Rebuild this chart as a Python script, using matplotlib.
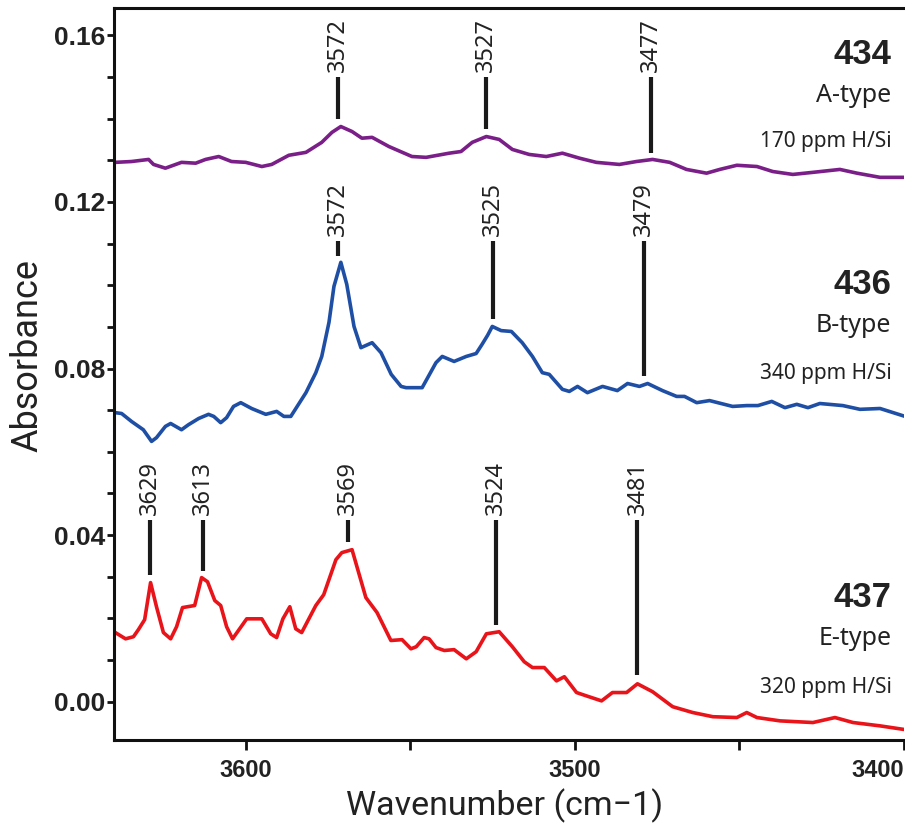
import numpy as np
import matplotlib
matplotlib.use("Agg")
import matplotlib.pyplot as plt

# sample 434, A-type (purple)
wn_434 = [3639.6, 3634.7, 3629.5, 3628.0, 3624.4, 3619.5, 3615.2, 3612.2, 3608.2, 3604.3,
          3600.0, 3595.1, 3592.1, 3586.9, 3581.7, 3576.9, 3573.8, 3571.1, 3567.7, 3564.7,
          3561.6, 3556.5, 3549.5, 3545.2, 3538.2, 3534.6, 3531.2, 3526.9, 3523.0, 3519.0,
          3513.9, 3508.7, 3503.8, 3498.6, 3493.5, 3486.5, 3481.3, 3476.4, 3471.2, 3466.1,
          3460.0, 3456.0, 3450.8, 3444.7, 3439.9, 3433.8, 3427.7, 3419.5, 3414.3, 3407.3,
          3399.7]
abs_434 = [0.1295, 0.1297, 0.1302, 0.1290, 0.1281, 0.1295, 0.1293, 0.1302, 0.1309, 0.1297,
           0.1295, 0.1285, 0.1290, 0.1312, 0.1319, 0.1343, 0.1367, 0.1381, 0.1369, 0.1353,
           0.1355, 0.1333, 0.1309, 0.1307, 0.1317, 0.1321, 0.1343, 0.1357, 0.1350, 0.1326,
           0.1314, 0.1309, 0.1317, 0.1305, 0.1295, 0.1290, 0.1297, 0.1302, 0.1295, 0.1278,
           0.1269, 0.1278, 0.1288, 0.1285, 0.1273, 0.1266, 0.1271, 0.1278, 0.1269, 0.1259,
           0.1259]

# sample 436, B-type (blue)
wn_436 = [3639.6, 3637.7, 3634.7, 3631.1, 3628.6, 3627.1, 3624.4, 3622.8, 3619.5, 3617.4,
          3614.3, 3611.3, 3609.7, 3607.6, 3605.8, 3603.7, 3601.5, 3598.2, 3593.9, 3590.6,
          3588.4, 3586.3, 3581.7, 3578.7, 3576.9, 3574.7, 3573.2, 3571.1, 3569.3, 3567.1,
          3565.0, 3561.6, 3558.9, 3555.8, 3552.8, 3551.3, 3546.4, 3542.2, 3540.3, 3536.7,
          3533.0, 3530.0, 3528.2, 3526.5, 3525.1, 3522.4, 3519.3, 3516.0, 3512.9, 3509.9,
          3507.8, 3503.8, 3501.7, 3499.2, 3496.2, 3491.6, 3487.1, 3484.0, 3480.4, 3477.9,
          3473.4, 3469.1, 3466.7, 3463.0, 3459.1, 3452.1, 3447.8, 3444.4, 3440.2, 3436.2,
          3432.6, 3429.2, 3425.6, 3418.6, 3413.4, 3407.3, 3403.3, 3399.7]
abs_436 = [0.0694, 0.0692, 0.0673, 0.0653, 0.0625, 0.0634, 0.0661, 0.0668, 0.0653, 0.0665,
           0.0680, 0.0690, 0.0685, 0.0670, 0.0682, 0.0709, 0.0718, 0.0704, 0.0690, 0.0697,
           0.0685, 0.0685, 0.0742, 0.0790, 0.0829, 0.0911, 0.0997, 0.1055, 0.1002, 0.0901,
           0.0850, 0.0862, 0.0838, 0.0786, 0.0757, 0.0754, 0.0754, 0.0814, 0.0829, 0.0817,
           0.0829, 0.0836, 0.0858, 0.0880, 0.0901, 0.0891, 0.0889, 0.0862, 0.0829, 0.0790,
           0.0786, 0.0750, 0.0745, 0.0757, 0.0742, 0.0757, 0.0747, 0.0764, 0.0757, 0.0764,
           0.0747, 0.0733, 0.0733, 0.0718, 0.0723, 0.0709, 0.0711, 0.0711, 0.0721, 0.0706,
           0.0714, 0.0706, 0.0716, 0.0711, 0.0702, 0.0704, 0.0694, 0.0685]

# sample 437, E-type (red)
wn_437 = [3639.6, 3636.5, 3634.1, 3632.6, 3630.7, 3628.9, 3627.1, 3625.0, 3622.8, 3621.0,
          3619.2, 3615.5, 3613.4, 3611.6, 3609.4, 3607.6, 3605.8, 3604.0, 3599.7, 3595.1,
          3592.4, 3590.6, 3588.7, 3586.6, 3584.8, 3583.0, 3578.7, 3576.3, 3572.6, 3570.8,
          3567.7, 3563.5, 3560.1, 3555.9, 3552.5, 3549.8, 3548.2, 3545.8, 3544.3, 3542.2,
          3539.7, 3536.7, 3533.0, 3530.0, 3526.9, 3523.0, 3519.0, 3515.4, 3512.9, 3509.3,
          3505.6, 3503.2, 3499.5, 3496.5, 3491.9, 3488.6, 3484.3, 3481.0, 3476.4, 3470.3,
          3464.2, 3458.1, 3450.8, 3447.8, 3444.7, 3437.7, 3427.7, 3421.0, 3415.5, 3407.3,
          3399.7]
abs_437 = [0.0166, 0.0151, 0.0156, 0.0173, 0.0197, 0.0286, 0.0228, 0.0166, 0.0151, 0.0180,
           0.0226, 0.0231, 0.0298, 0.0288, 0.0243, 0.0231, 0.0180, 0.0151, 0.0199, 0.0199,
           0.0163, 0.0154, 0.0199, 0.0228, 0.0175, 0.0166, 0.0231, 0.0257, 0.0341, 0.0358,
           0.0365, 0.0250, 0.0214, 0.0147, 0.0149, 0.0127, 0.0132, 0.0154, 0.0151, 0.0130,
           0.0123, 0.0125, 0.0103, 0.0120, 0.0163, 0.0168, 0.0132, 0.0096, 0.0082, 0.0082,
           0.0050, 0.0060, 0.0022, 0.0014, 0.0002, 0.0022, 0.0022, 0.0043, 0.0024, -0.0012,
           -0.0026, -0.0036, -0.0038, -0.0026, -0.0038, -0.0046, -0.0050, -0.0038, -0.0050, -0.0058,
           -0.0067]

# peak markers: wavenumber, bottom of the bar, shared top per sample
peaks_434 = [3572, 3527, 3477]
bar_434 = [0.1398, 0.1374, 0.1317]
peaks_436 = [3572, 3525, 3479]
bar_436 = [0.1069, 0.0918, 0.0783]
peaks_437 = [3629, 3613, 3569, 3524, 3481]
bar_437 = [0.0305, 0.0315, 0.0384, 0.0183, 0.0065]
bar_top = [0.1499, 0.1105, 0.0437]

names = ["434", "436", "437"]
types = ["A-type", "B-type", "E-type"]
ppm = ["170 ppm H/Si", "340 ppm H/Si", "320 ppm H/Si"]
name_y = [0.1530, 0.0978, 0.0228]
type_y = [0.1439, 0.0887, 0.0137]
ppm_y = [0.1333, 0.0774, 0.0022]

colors = ["#7b1f88", "#1f4fa5", "#e8141a"]
txt_font = ["Noto Sans", "DejaVu Sans"]

fig = plt.figure(figsize=(9.05, 8.25), dpi=100)
ax = fig.add_axes([0.126, 0.103, 0.873, 0.887])

series = [(wn_434, abs_434), (wn_436, abs_436), (wn_437, abs_437)]
for (wn, ab), c in zip(series, colors):
    ax.plot(wn, ab, color=c, lw=2.6, solid_joinstyle="round")

marks = [(peaks_434, bar_434), (peaks_436, bar_436), (peaks_437, bar_437)]
for (pk, bottoms), top in zip(marks, bar_top):
    for p, b in zip(pk, bottoms):
        ax.plot([p, p], [b, top], color="#1a1a1a", lw=3.0, solid_capstyle="butt")
        ax.text(p, top + 0.0012, str(p), rotation=90, ha="center", va="bottom",
                fontsize=17, color="#222222", family=txt_font)

for i in range(3):
    ax.text(0.984, name_y[i], names[i], transform=ax.get_yaxis_transform(),
            ha="right", va="baseline", fontsize=25, fontweight="bold",
            color="#222222", family=["Liberation Sans", "DejaVu Sans"])
    ax.text(0.984, type_y[i], types[i], transform=ax.get_yaxis_transform(),
            ha="right", va="baseline", fontsize=18, color="#222222", family=txt_font)
    ax.text(0.984, ppm_y[i], ppm[i], transform=ax.get_yaxis_transform(),
            ha="right", va="baseline", fontsize=15, color="#222222", family=txt_font)

ax.set_xlim(3640, 3400)
ax.set_ylim(-0.0092, 0.1665)
ax.set_xticks([3600, 3500, 3400])
ax.set_xticks([3550, 3450], minor=True)
ax.set_yticks([0.00, 0.04, 0.08, 0.12, 0.16])
ax.set_yticks(np.arange(0.0, 0.165, 0.01), minor=True)
ax.set_yticklabels(["0.00", "0.04", "0.08", "0.12", "0.16"])

for sp in ax.spines.values():
    sp.set_linewidth(2.2)
    sp.set_color("#111111")
ax.spines["right"].set_visible(False)

ax.tick_params(which="both", direction="out", width=2, color="#111111")
ax.tick_params(axis="x", which="both", length=7, pad=7)
ax.tick_params(axis="y", which="both", length=5, pad=1)
for lab in ax.get_xticklabels():
    lab.set_fontsize(17)
for lab in ax.get_yticklabels():
    lab.set_fontsize(19)
for lab in ax.get_xticklabels() + ax.get_yticklabels():
    lab.set_family(["Liberation Sans", "DejaVu Sans"])
    lab.set_fontweight("bold")
    lab.set_color("#222222")
ax.get_xticklabels()[-1].set_horizontalalignment("right")

ax.set_xlabel("Wavenumber (cm\u22121)", fontsize=24.5, family=["Roboto", "DejaVu Sans"],
              color="#222222")
ax.set_ylabel("Absorbance", fontsize=26, family=["Roboto", "DejaVu Sans"], color="#222222")
ax.xaxis.set_label_coords(0.494, -0.066)
ax.yaxis.set_label_coords(-0.087, 0.526)

fig.savefig("out.png", dpi=100)
